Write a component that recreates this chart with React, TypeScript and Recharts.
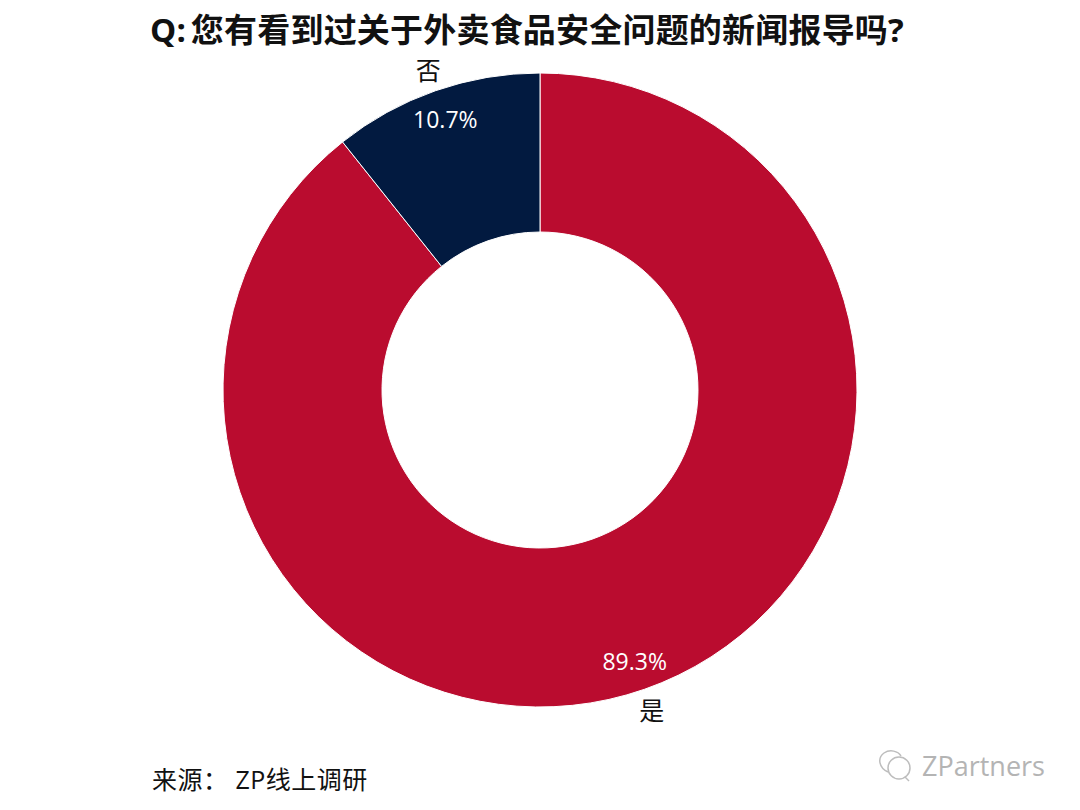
import { Cell, Pie, PieChart } from "recharts";

const NAMES = ["是", "否"];
const VALUES = [89.3, 10.7];
const COLORS = ["#BA0C2F", "#021A40"];
const LABEL_FONT = '"Open Sans", "Noto Sans CJK SC", sans-serif';

const slices = NAMES.map((name, i) => ({ name, value: VALUES[i] }));

const CX = 532;
const CY = 382;
const INNER = 158;
const OUTER = 317;

// value inside the ring near the outer edge, category name just outside it
function sliceLabel({ midAngle, index }: { midAngle: number; index: number }) {
  const rad = (midAngle * Math.PI) / 180;
  const at = (r: number) => ({ x: CX + r * Math.cos(rad), y: CY - r * Math.sin(rad) });
  const inner = at(OUTER - 30);
  const outer = at(OUTER + 22);
  return (
    <g key={NAMES[index]}>
      <text x={inner.x} y={inner.y} fill="#fff" fontSize={23} fontFamily={LABEL_FONT} textAnchor="middle" dominantBaseline="central">
        {VALUES[index].toFixed(1)}%
      </text>
      <text x={outer.x} y={outer.y} fill="#111" fontSize={25} fontFamily={LABEL_FONT} textAnchor="middle" dominantBaseline="central">
        {NAMES[index]}
      </text>
    </g>
  );
}

export default function App() {
  return (
    <div style={{ position: "relative", width: 1064, height: 794, background: "#fff" }}>
      <PieChart width={1064} height={794} margin={{ top: 0, right: 0, bottom: 0, left: 0 }}>
        <Pie
          data={slices}
          dataKey="value"
          cx={CX}
          cy={CY}
          innerRadius={INNER}
          outerRadius={OUTER}
          startAngle={90}
          endAngle={-270}
          stroke="#fff"
          strokeWidth={1}
          label={sliceLabel}
          labelLine={false}
          isAnimationActive={false}
        >
          {slices.map((s, i) => (
            <Cell key={s.name} fill={COLORS[i]} />
          ))}
        </Pie>
      </PieChart>
      <div style={{ position: "absolute", left: 142, top: 0, lineHeight: "44px", fontFamily: LABEL_FONT, fontWeight: 700, fontSize: 33, letterSpacing: 0.2, wordSpacing: -4, color: "#111", whiteSpace: "nowrap" }}>
        Q: 您有看到过关于外卖食品安全问题的新闻报导吗?
      </div>
      <div style={{ position: "absolute", left: 144, top: 752, fontFamily: LABEL_FONT, fontSize: 25, letterSpacing: 0.5, color: "#111", whiteSpace: "nowrap" }}>
        {"来源\uFF1A ZP线上调研"}
      </div>
      <svg style={{ position: "absolute", left: 868, top: 740 }} width={40} height={34} fill="none" stroke="#bdbdbd" strokeWidth={1.5}>
        <path d="M12 24 C3 20 1 10 8 5 C14 1 22 3 25 8" />
        <circle cx={23} cy={20} r={11} />
        <path d="M29 29 L33 33" />
      </svg>
      <div style={{ position: "absolute", left: 914, top: 739, fontFamily: '"Open Sans", sans-serif', fontSize: 27, color: "#b4b4b4", whiteSpace: "nowrap" }}>
        ZPartners
      </div>
    </div>
  );
}
